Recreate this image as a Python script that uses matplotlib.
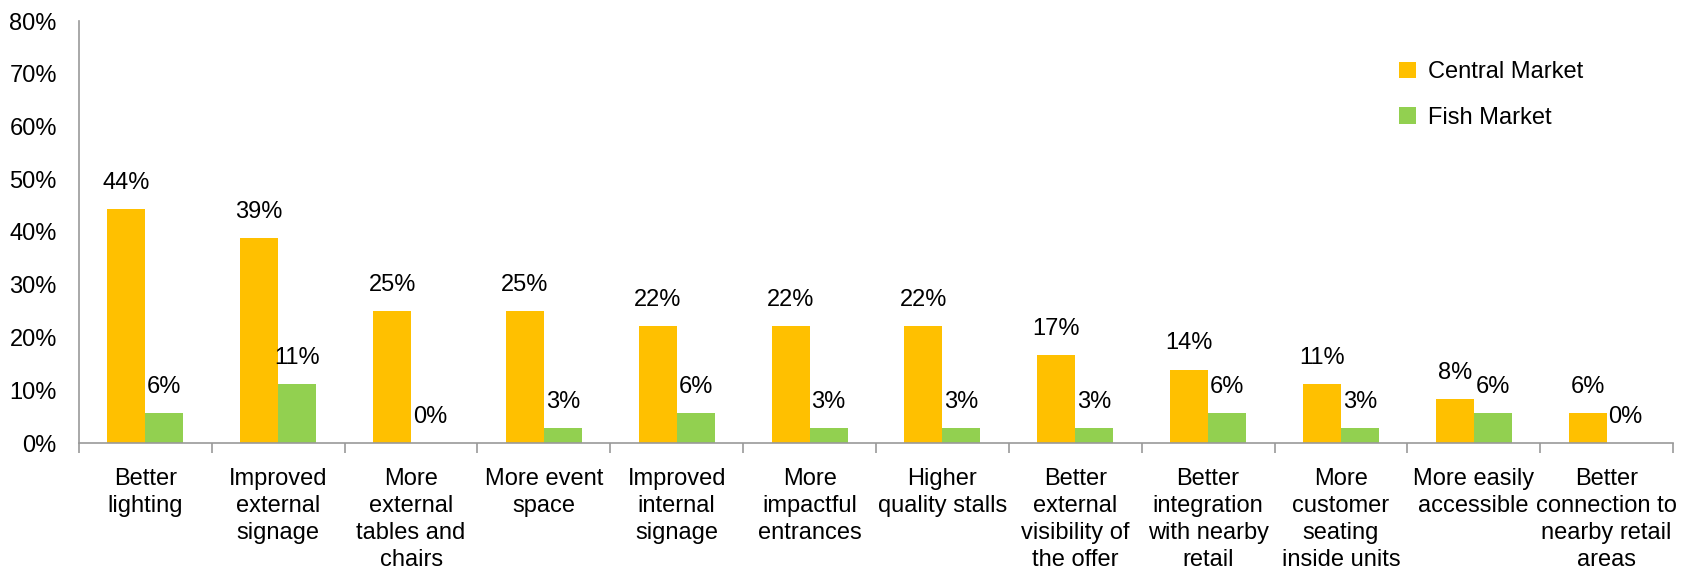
import numpy as np
import matplotlib
matplotlib.use('Agg')
import matplotlib.pyplot as plt
from matplotlib import font_manager

# pick a narrow sans if available
names = {f.name for f in font_manager.fontManager.ttflist}
fam = 'Liberation Sans Narrow' if 'Liberation Sans Narrow' in names else 'Liberation Sans'
plt.rcParams['font.family'] = [fam, 'DejaVu Sans']

categories = ['Better\nlighting', 'Improved\nexternal\nsignage', 'More\nexternal\ntables and\nchairs',
              'More event\nspace', 'Improved\ninternal\nsignage', 'More\nimpactful\nentrances',
              'Higher\nquality stalls', 'Better\nexternal\nvisibility of\nthe offer',
              'Better\nintegration\nwith nearby\nretail', 'More\ncustomer\nseating\ninside units',
              'More easily\naccessible', 'Better\nconnection to\nnearby retail\nareas']
central = [44.4, 38.9, 25.0, 25.0, 22.2, 22.2, 22.2, 16.7, 13.9, 11.1, 8.3, 5.6]
fish = [5.6, 11.1, 0.0, 2.8, 5.6, 2.8, 2.8, 2.8, 5.6, 2.8, 5.6, 0.0]
series_names = ['Central Market', 'Fish Market']
colors = ['#FFC000', '#92D050']

fig = plt.figure(figsize=(16.88, 5.8), dpi=100)
ax = fig.add_axes([79/1688, 1-443/580, (1673-79)/1688, (443-21)/580])

x = np.arange(len(categories))
w = 0.286
b1 = ax.bar(x - w/2, central, w, color=colors[0], label=series_names[0])
b2 = ax.bar(x + w/2, fish, w, color=colors[1], label=series_names[1])

for bars, vals in ((b1, central), (b2, fish)):
    for r, v in zip(bars, vals):
        ax.annotate('%d%%' % round(v), (r.get_x() + r.get_width()/2, v),
                    xytext=(0, 11), textcoords='offset points',
                    ha='center', va='bottom', fontsize=17)

ax.set_xlim(-0.5, len(categories) - 0.5)
ax.set_ylim(0, 80)
ax.set_yticks(range(0, 81, 10))
ax.set_yticklabels(['%d%%' % t for t in range(0, 81, 10)], fontsize=17)
ax.tick_params(axis='y', length=0, pad=16)

# category labels centered, tick marks between categories
ax.set_xticks(x)
ax.set_xticklabels(categories, fontsize=17, linespacing=1.3)
ax.tick_params(axis='x', which='major', length=0, pad=18)
ax.set_xticks(np.arange(-0.5, len(categories)), minor=True)
ax.tick_params(axis='x', which='minor', length=7, color='#999999', width=1.2)

for s in ['top', 'right']:
    ax.spines[s].set_visible(False)
ax.spines['left'].set_color('#999999')
ax.spines['bottom'].set_color('#999999')
ax.spines['left'].set_linewidth(1.2)
ax.spines['bottom'].set_linewidth(1.2)

ax.legend(loc='upper left', bbox_to_anchor=(0.815, 0.955), frameon=False, fontsize=17,
          handlelength=0.7, handleheight=0.7, handletextpad=0.5, labelspacing=1.0)

fig.savefig('out.png', dpi=100)
